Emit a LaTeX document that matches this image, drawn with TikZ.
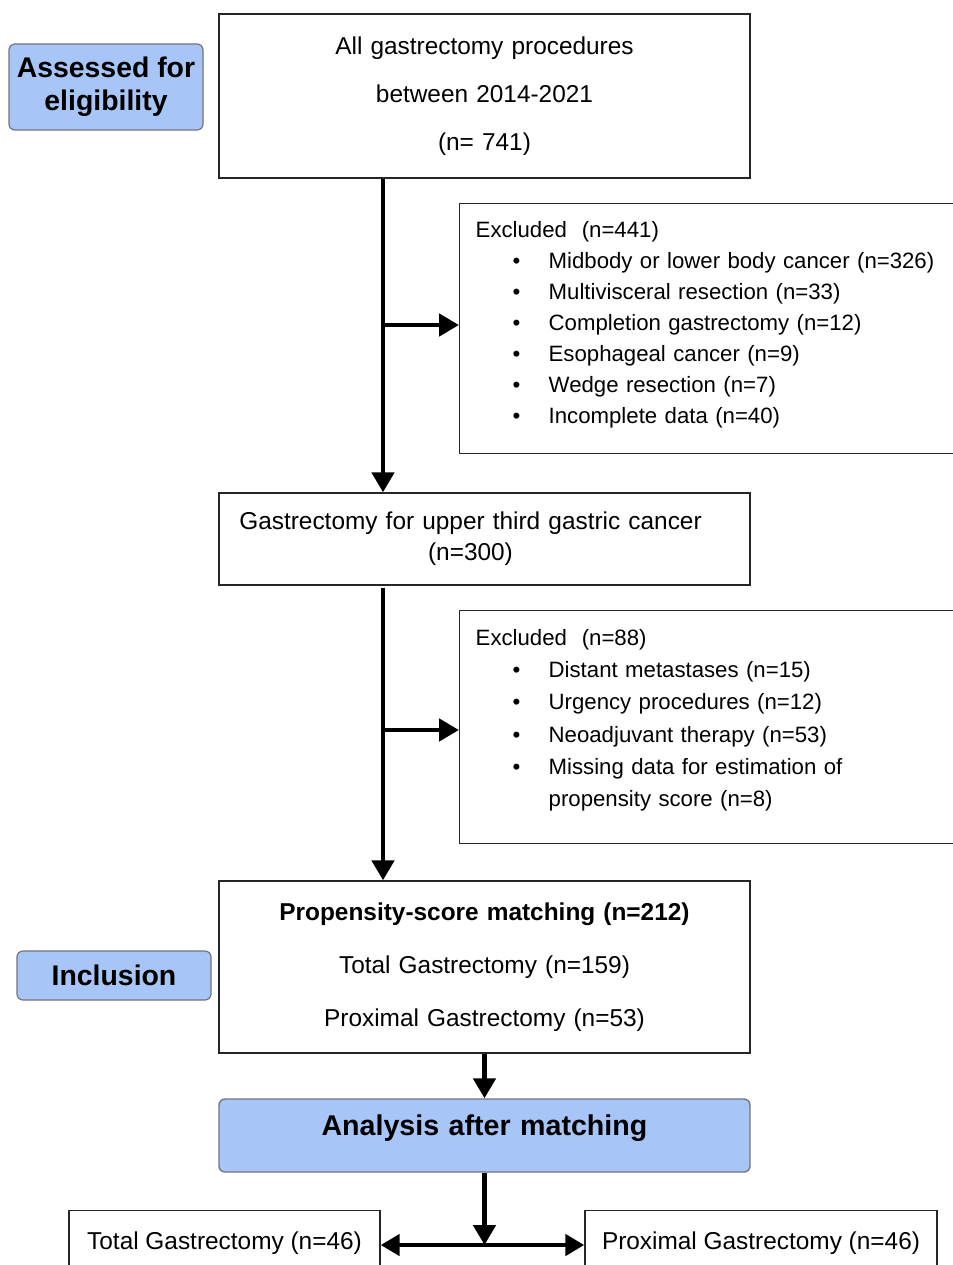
\documentclass[tikz,border=0pt]{standalone}
\usepackage{fontspec}
\setmainfont{Liberation Sans}
\usetikzlibrary{positioning,arrows.meta}
\definecolor{lblue}{RGB}{168,197,247}
\definecolor{edge}{RGB}{115,115,125}
\newcommand\itm[1]{\\\hspace*{18.5pt}\makebox[18pt][l]{\textbullet}#1}

\begin{document}
\begin{tikzpicture}[x=0.5pt, y=-0.5pt,
  bx/.style={draw=black!85, line width=0.7pt, align=center, inner sep=0pt, text width=265.5pt, minimum width=265.5pt},
  exc/.style={draw=black!85, line width=0.7pt, anchor=north west, align=left, text width=239pt, inner xsep=8pt, inner ysep=0pt, font=\fontsize{11.1}{15.5}\selectfont},
  lbl/.style={fill=lblue, draw=edge, line width=0.6pt, rounded corners=3pt, align=center, font=\fontsize{14.2}{16.5}\selectfont\bfseries},
  bot/.style={draw=black!85, line width=0.7pt, anchor=north, text height=9pt, text depth=3pt, inner ysep=10.4pt, font=\fontsize{12.2}{14}\selectfont},
  arr/.style={line width=2.4pt, -{Triangle[length=10pt, width=11pt]}},
  darr/.style={line width=2.4pt, {Triangle[length=9.5pt, width=10.5pt]}-{Triangle[length=9.5pt, width=10.5pt]}}
]
\clip (0,0) rectangle (953,1265);
\fill[white] (0,0) rectangle (953,1265);

% main column
\node[bx, minimum height=82pt, font=\fontsize{12.2}{24}\selectfont] (all) at (484.5,96)
 {All gastrectomy procedures\\between 2014-2021\\(n= 741)};
\node[bx, minimum height=46pt, font=\fontsize{12.2}{15.5}\selectfont] (upper) at (484.5,539)
 {\hspace*{-14pt}Gastrectomy for upper third gastric cancer\\\hspace*{-14pt}(n=300)};
\node[bx, minimum height=86pt, font=\fontsize{12.2}{26.5}\selectfont] (psm) at (484.5,967)
 {\textbf{Propensity-score matching (n=212)}\\Total Gastrectomy (n=159)\\Proximal Gastrectomy (n=53)};
\node[bx, fill=lblue, draw=edge, rounded corners=3pt, text height=18.25pt, text depth=18.25pt,
 font=\fontsize{14.3}{16}\selectfont\bfseries] (anl) at (484.5,1135.5) {Analysis after matching};

% exclusions
\node[exc, minimum height=125pt] (ex1) at (459,203)
 {Excluded~~(n=441)\itm{Midbody or lower body cancer (n=326)}\itm{Multivisceral resection (n=33)}%
  \itm{Completion gastrectomy (n=12)}\itm{Esophageal cancer (n=9)}\itm{Wedge resection (n=7)}%
  \itm{Incomplete data (n=40)}\vspace*{4pt}};
\node[exc, minimum height=116.5pt, font=\fontsize{11.1}{16.1}\selectfont] (ex2) at (459,610)
 {Excluded~~(n=88)\itm{Distant metastases (n=15)}\itm{Urgency procedures (n=12)}%
  \itm{Neoadjuvant therapy (n=53)}\itm{Missing data for estimation of}\\\hspace*{36.5pt}propensity score (n=8)\vspace*{7pt}};

% side labels
\node[lbl, minimum width=97pt, minimum height=43pt] (elig) at (106,87) {Assessed for\\eligibility};
\node[lbl, minimum width=97pt, minimum height=24.5pt] (incl) at (114,975.5) {Inclusion};

% groups
\node[bot, minimum width=155.5pt] (tg) at (224.5,1210) {Total Gastrectomy (n=46)};
\node[bot, minimum width=176pt] (pg) at (761,1210) {Proximal Gastrectomy (n=46)};

\coordinate (j1) at (383,325);
\coordinate (j2) at (383,730);
\coordinate (sp) at (484.5,1245);
\draw[arr] (all.south -| j1) -- (upper.north -| j1);
\draw[arr] (j1) -- (j1 -| ex1.west);
\draw[arr] ([yshift=-1pt]upper.south -| j2) -- (psm.north -| j2);
\draw[arr] (j2) -- (j2 -| ex2.west);
\draw[arr] (psm.south) -- (anl.north);
\draw[arr] (anl.south) -- (sp);
\draw[darr] (sp -| tg.east) -- (sp -| pg.west);
\end{tikzpicture}
\end{document}
